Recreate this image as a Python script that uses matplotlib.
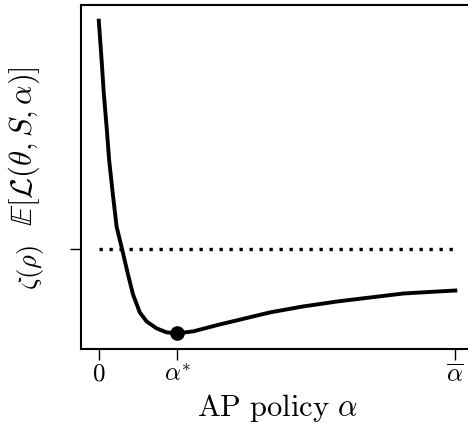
import matplotlib
matplotlib.use('Agg')
import matplotlib.pyplot as plt
from matplotlib.transforms import ScaledTranslation

plt.rcParams['mathtext.fontset'] = 'cm'
plt.rcParams['font.family'] = 'serif'
plt.rcParams['font.serif'] = ['cmr10', 'DejaVu Serif']
plt.rcParams['axes.formatter.use_mathtext'] = True

# expected loss, x in units of alpha-bar
alpha = [0.000, 0.008, 0.014, 0.022, 0.029, 0.039, 0.050, 0.065, 0.082, 0.096,
         0.115, 0.134, 0.162, 0.190, 0.220, 0.265, 0.340, 0.387, 0.480, 0.573,
         0.669, 0.761, 0.854, 0.949, 1.000]
loss = [3.30, 2.90, 2.57, 2.23, 1.90, 1.57, 1.23, 1.01, 0.75, 0.55,
        0.37, 0.28, 0.21, 0.17, 0.16, 0.18, 0.25, 0.29, 0.37, 0.43,
        0.48, 0.52, 0.56, 0.58, 0.59]
alpha_star = 0.220
loss_star = 0.16
zeta = 1.01

xtick_pos = [0.0, alpha_star, 1.0]
xtick_labels = [r'$0$', r'$\alpha^{*}$', r'$\overline{\alpha}$']

fig = plt.figure(figsize=(4.68, 4.31), dpi=100)
ax = fig.add_axes([0.173, 0.188, 0.838, 0.798])

ax.plot(alpha, loss, color='black', linewidth=2.8)
ax.plot([0.0, 1.0], [zeta, zeta], color='black', linewidth=2.4,
        linestyle=(0, (1, 2)))
ax.plot([alpha_star], [loss_star], 'o', color='black', markersize=9.5)

ax.set_xticks(xtick_pos)
ax.set_xticklabels(xtick_labels, fontsize=18)
ax.set_yticks([zeta])
ax.set_yticklabels([r'$\zeta(\rho)$'], fontsize=19, rotation=90, va='center')
ax.tick_params(axis='both', length=8, width=1, pad=2)
ax.tick_params(axis='y', pad=17)
# the zeta label sits a little below its tick in the original
for lab in ax.get_yticklabels():
    lab.set_transform(lab.get_transform() + ScaledTranslation(0, -0.18, fig.dpi_scale_trans))

ax.set_xlabel(r'$\mathrm{AP\ policy}\ \alpha$', fontsize=22)
ax.set_ylabel(r'$\mathbb{E}[\mathcal{L}(\theta, S, \alpha)]$', fontsize=22)
ax.yaxis.set_label_coords(-0.10, 0.593)

for s in ax.spines.values():
    s.set_linewidth(1.5)

fig.savefig('out.png', dpi=100)
